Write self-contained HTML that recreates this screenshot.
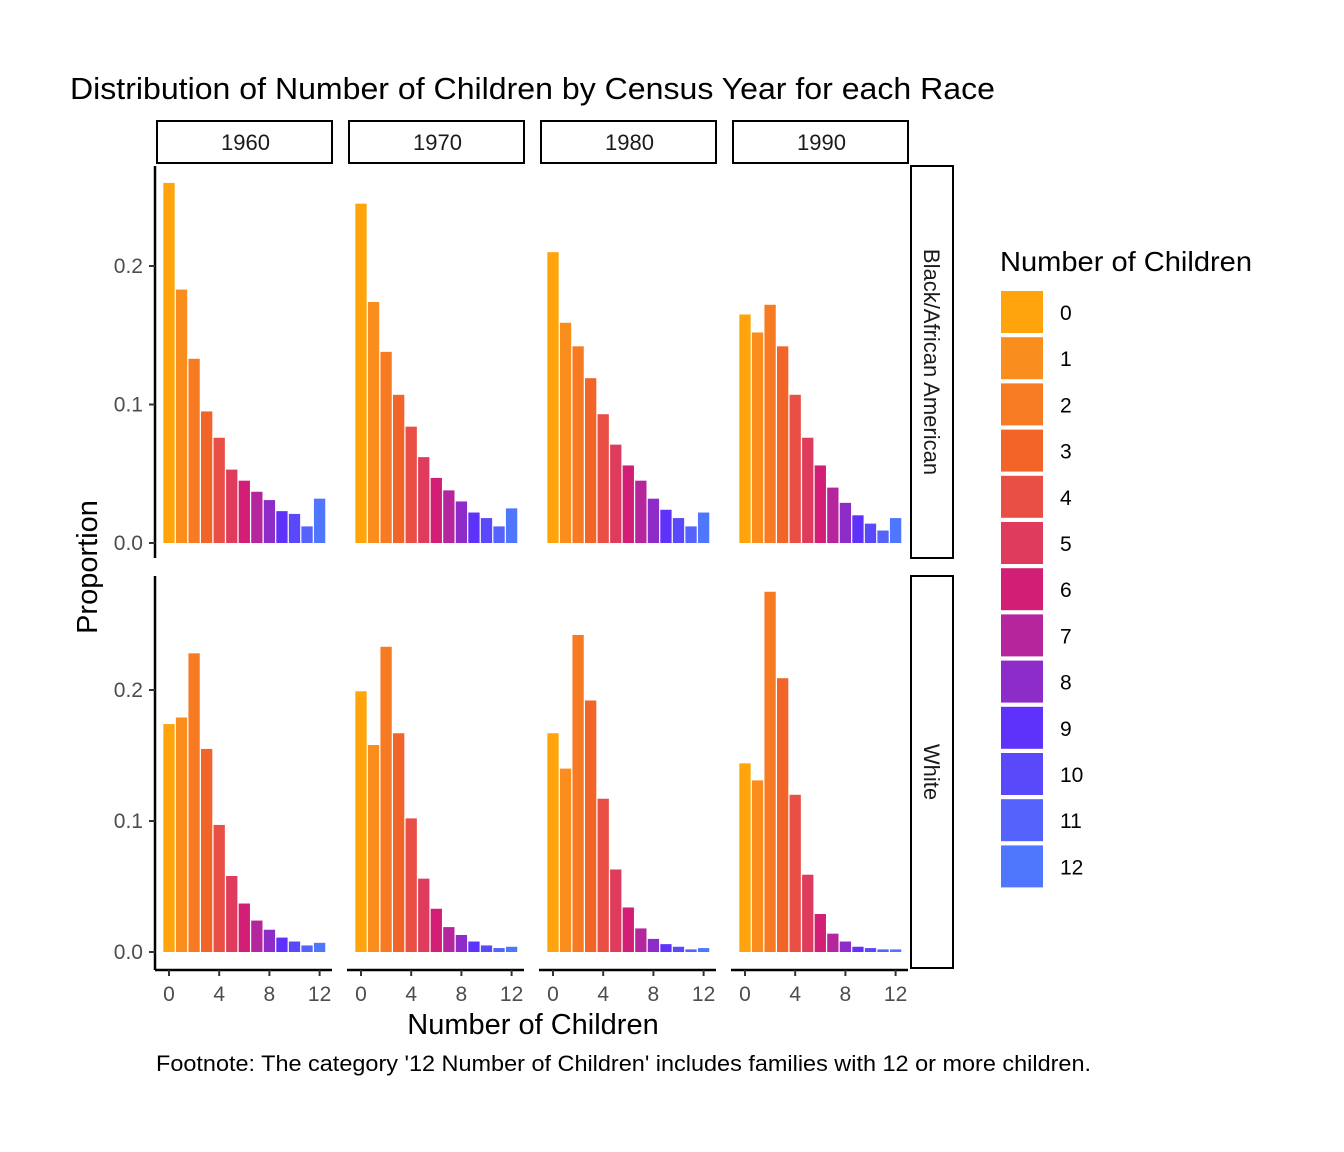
<!DOCTYPE html>
<html><head><meta charset="utf-8"><style>
html,body{margin:0;padding:0;background:#fff}
svg{display:block;font-family:"Liberation Sans",Arial,sans-serif}
</style></head><body>
<svg id="chart" width="1344" height="1152" viewBox="0 0 1344 1152">
<text x="70" y="99" font-size="31" textLength="925" lengthAdjust="spacingAndGlyphs" fill="#000">Distribution of Number of Children by Census Year for each Race</text>
<g id="plots"></g>
<text x="97" y="567" font-size="29" text-anchor="middle" transform="rotate(-90 97 567)">Proportion</text>
<text x="533" y="1034" font-size="29" text-anchor="middle">Number of Children</text>
<text x="156" y="1071" font-size="22" textLength="935" lengthAdjust="spacingAndGlyphs">Footnote: The category '12 Number of Children' includes families with 12 or more children.</text>
<g id="legend"></g>
</svg>
<script>
const years = ["1960","1970","1980","1990"];
const races = ["Black/African American","White"];
const categories = [0,1,2,3,4,5,6,7,8,9,10,11,12];
const colors = ["#FFA40C","#F98D1E","#F67B22","#F26428","#E85046","#DF3B5C","#D21E74","#B5269D","#8E2CCA","#5E32FA","#5A49FA","#5662FC","#4F77FD"];
const black1960 = [0.26,0.183,0.133,0.095,0.076,0.053,0.045,0.037,0.031,0.023,0.021,0.012,0.032];
const black1970 = [0.245,0.174,0.138,0.107,0.084,0.062,0.047,0.038,0.030,0.022,0.018,0.012,0.025];
const black1980 = [0.21,0.159,0.142,0.119,0.093,0.071,0.056,0.045,0.032,0.024,0.018,0.012,0.022];
const black1990 = [0.165,0.152,0.172,0.142,0.107,0.076,0.056,0.040,0.029,0.020,0.014,0.009,0.018];
const white1960 = [0.174,0.179,0.228,0.155,0.097,0.058,0.037,0.024,0.017,0.011,0.008,0.005,0.007];
const white1970 = [0.199,0.158,0.233,0.167,0.102,0.056,0.033,0.019,0.013,0.008,0.005,0.003,0.004];
const white1980 = [0.167,0.140,0.242,0.192,0.117,0.063,0.034,0.018,0.010,0.006,0.004,0.002,0.003];
const white1990 = [0.144,0.131,0.275,0.209,0.120,0.059,0.029,0.014,0.008,0.004,0.003,0.002,0.002];
const yTicks = [0,0.1,0.2];
const yTickLabels = ["0.0","0.1","0.2"];
const xTicks = [0,4,8,12];
const seriesByRace = [[black1960,black1970,black1980,black1990],[white1960,white1970,white1980,white1990]];

const NS="http://www.w3.org/2000/svg";
function mk(tag,attrs,parent,text){const e=document.createElementNS(NS,tag);for(const k in attrs)e.setAttribute(k,attrs[k]);if(text!==undefined)e.textContent=text;parent.appendChild(e);return e;}
const plots=document.getElementById('plots');
const colX0=[157,349,541,733], panelW=175;
const rows=[{top:166,bot:558,zero:543,scale:1385},{top:576,bot:968,zero:952,scale:1310}];
function xScale(c,v){return colX0[c]+12+v*12.55;}
function yScale(r,v){return rows[r].zero-v*rows[r].scale;}
const bw=11.3;
years.forEach((y,c)=>{
  const s=mk('rect',{x:colX0[c],y:121,width:panelW,height:42,fill:'#fff',stroke:'#000','stroke-width':2},plots);
  
  
  const t=mk('text',{x:colX0[c]+panelW/2+1,y:150,'font-size':22,'text-anchor':'middle',fill:'#1a1a1a'},plots,y);
  
  
});
races.forEach((race,r)=>{
  const R=rows[r];
  const sr=mk('rect',{x:911,y:R.top,width:42,height:R.bot-R.top,fill:'#fff',stroke:'#000','stroke-width':2},plots);
  
  
  const cy=(R.top+R.bot)/2;
  const tr=mk('text',{x:924,y:cy,'font-size':22,'text-anchor':'middle',fill:'#1a1a1a',transform:`rotate(90 924 ${cy})`},plots,race);
  
  
  const ya=mk('line',{x1:155,x2:155,y1:R.top,y2:R.bot+(r?2:0),stroke:'#000','stroke-width':2.5},plots);
  
  
  yTicks.forEach((v,i)=>{
    const yy=yScale(r,v);
    mk('line',{x1:149,x2:155,y1:yy,y2:yy,stroke:'#333','stroke-width':2},plots);
    const l=mk('text',{x:143,y:yy+7,'font-size':21,'text-anchor':'end',fill:'#4d4d4d'},plots,yTickLabels[i]);
    
    
  });
  years.forEach((y,c)=>{
    const data=seriesByRace[r][c];
    data.forEach((v,i)=>{
      const b=mk('rect',{x:xScale(c,categories[i])-bw/2,y:yScale(r,v),width:bw,height:yScale(r,0)-yScale(r,v),fill:colors[i]},plots);
      
      
    });
    if(r===1){
      const xa=mk('line',{x1:colX0[c]-2,x2:colX0[c]+panelW,y1:970,y2:970,stroke:'#000','stroke-width':2.5},plots);
      
      
      xTicks.forEach(t=>{
        const xx=xScale(c,t);
        mk('line',{x1:xx,x2:xx,y1:970,y2:976,stroke:'#333','stroke-width':2},plots);
        const l=mk('text',{x:xx,y:1001,'font-size':21,'text-anchor':'middle',fill:'#4d4d4d'},plots,String(t));
        
        
      });
    }
  });
});
const lg=document.getElementById('legend');
const lt=mk('text',{x:1000,y:271,'font-size':28,fill:'#000',textLength:252,lengthAdjust:'spacingAndGlyphs'},lg,'Number of Children');


categories.forEach((cat,i)=>{
  const y0=291+i*46.2;
  const k=mk('rect',{x:1001,y:y0,width:42,height:42,fill:colors[i]},lg);
  
  
  const t=mk('text',{x:1060,y:y0+29,'font-size':21,fill:'#000'},lg,String(cat));
  
  
});
</script>
</body></html>
